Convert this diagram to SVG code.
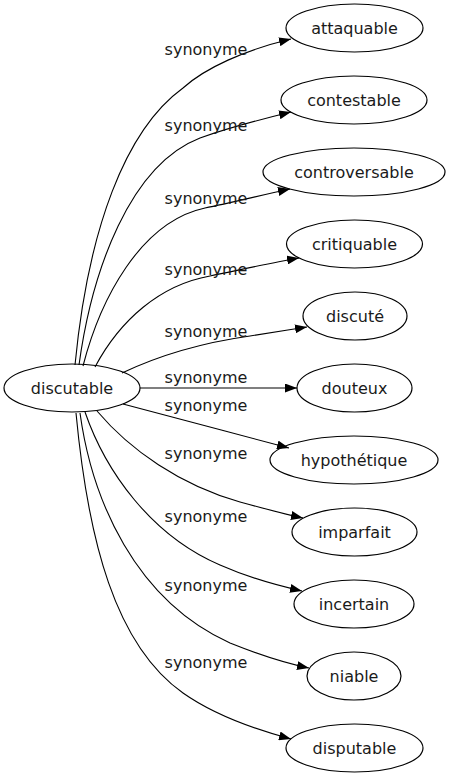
<svg xmlns="http://www.w3.org/2000/svg" width="450" height="779" viewBox="0 0 450 779">
<defs>
<style>
.n ellipse{fill:none;stroke:#000;stroke-width:1.2}
text{font-family:"DejaVu Sans","Open Sans",sans-serif;font-size:16px;text-anchor:middle;fill:#1a1a1a}
.e path{fill:none;stroke:#000;stroke-width:1.1}
</style>
<marker id="a" viewBox="0 0 12 9" refX="12" refY="4.5" markerWidth="12" markerHeight="9" markerUnits="userSpaceOnUse" orient="auto">
<path d="M0,0L12,4.5L0,9z" fill="#000"/>
</marker>
</defs>
<rect width="450" height="779" fill="#fff"/>
<g class="e" id="edges">
<path marker-end="url(#a)" d="M75,365 C88,230 125,130 183,88 C205,68 245,50 291,39"/>
<path marker-end="url(#a)" d="M79,365 C92,270 130,165 200,138 C228,128 258,120 291,112"/>
<path marker-end="url(#a)" d="M83,366 C100,300 140,222 205,208 C230,203 262,195 290,189"/>
<path marker-end="url(#a)" d="M95,367 C120,320 160,285 210,276 C235,271 270,263 299,258"/>
<path marker-end="url(#a)" d="M122,373 C160,355 200,343 250,336 C268,333 288,330 307,327"/>
<path marker-end="url(#a)" d="M140,388 L297,388"/>
<path marker-end="url(#a)" d="M123,404 C170,416 235,434 289,448"/>
<path marker-end="url(#a)" d="M97,411 C130,450 180,485 240,502 C262,508 284,514 303,518"/>
<path marker-end="url(#a)" d="M85,412 C105,470 150,535 220,565 C245,576 275,585 302,591"/>
<path marker-end="url(#a)" d="M80,413 C92,500 135,600 230,643 C255,653 285,663 309,668"/>
<path marker-end="url(#a)" d="M76,413 C88,540 115,645 183,693 C210,712 250,728 291,739"/>
</g>
<g id="labels">
<text x="206" y="55">synonyme</text>
<text x="206" y="131">synonyme</text>
<text x="206" y="204">synonyme</text>
<text x="206" y="275">synonyme</text>
<text x="206" y="337">synonyme</text>
<text x="206" y="383">synonyme</text>
<text x="206" y="411">synonyme</text>
<text x="206" y="459">synonyme</text>
<text x="206" y="522">synonyme</text>
<text x="206" y="591">synonyme</text>
<text x="206" y="668">synonyme</text>
</g>
<g class="n" id="discutable"><ellipse cx="72" cy="388" rx="68" ry="24"/><text x="72" y="394">discutable</text></g>
<g class="n" id="attaquable"><ellipse cx="354.5" cy="28" rx="68.5" ry="24"/><text x="354.5" y="34">attaquable</text></g>
<g class="n" id="contestable"><ellipse cx="354" cy="100" rx="73" ry="24"/><text x="354" y="106">contestable</text></g>
<g class="n" id="controversable"><ellipse cx="354" cy="172" rx="91" ry="24"/><text x="354" y="178">controversable</text></g>
<g class="n" id="critiquable"><ellipse cx="354.5" cy="244" rx="68" ry="24"/><text x="354.5" y="250">critiquable</text></g>
<g class="n" id="discute"><ellipse cx="355" cy="316" rx="52" ry="24"/><text x="355" y="322">discuté</text></g>
<g class="n" id="douteux"><ellipse cx="354.5" cy="388" rx="57.5" ry="24"/><text x="354.5" y="394">douteux</text></g>
<g class="n" id="hypothetique"><ellipse cx="354" cy="460" rx="84" ry="24"/><text x="354" y="466">hypothétique</text></g>
<g class="n" id="imparfait"><ellipse cx="354.5" cy="532" rx="62.5" ry="24"/><text x="354.5" y="538">imparfait</text></g>
<g class="n" id="incertain"><ellipse cx="354" cy="604" rx="60" ry="24"/><text x="354" y="610">incertain</text></g>
<g class="n" id="niable"><ellipse cx="354" cy="676" rx="47" ry="24"/><text x="354" y="682">niable</text></g>
<g class="n" id="disputable"><ellipse cx="354.5" cy="748" rx="68.5" ry="24"/><text x="354.5" y="754">disputable</text></g>
</svg>
